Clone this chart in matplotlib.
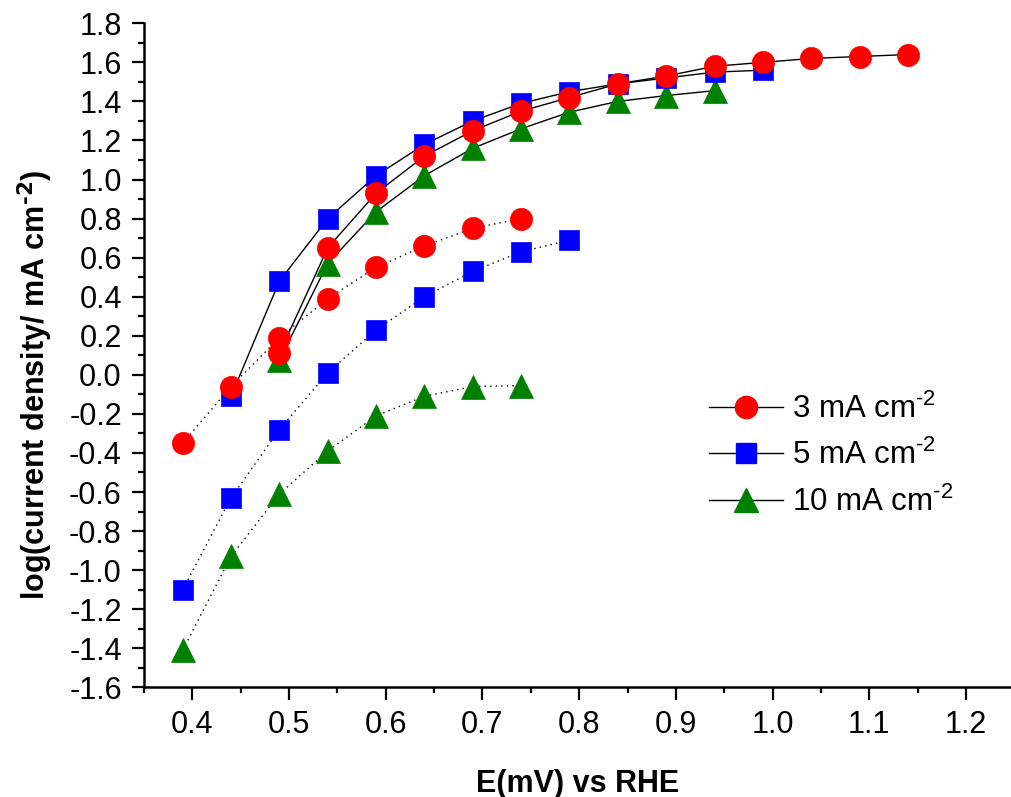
import numpy as np
import matplotlib
matplotlib.use("Agg")
import matplotlib.pyplot as plt
from matplotlib.lines import Line2D
from matplotlib.ticker import MultipleLocator, FormatStrFormatter

plt.rcParams["font.family"] = ["Liberation Sans", "DejaVu Sans"]
plt.rcParams["axes.unicode_minus"] = False

# upper branch (solid line)
E_SOLID_3 = [0.49, 0.54, 0.59, 0.64, 0.69, 0.74, 0.79, 0.84, 0.89, 0.94, 0.99, 1.04, 1.09, 1.14]
LOGJ_SOLID_3 = [0.11, 0.65, 0.93, 1.12, 1.25, 1.35, 1.42, 1.49, 1.53, 1.58, 1.60, 1.62, 1.63, 1.64]
E_SOLID_5 = [0.44, 0.49, 0.54, 0.59, 0.64, 0.69, 0.74, 0.79, 0.84, 0.89, 0.94, 0.99]
LOGJ_SOLID_5 = [-0.11, 0.48, 0.80, 1.02, 1.18, 1.30, 1.39, 1.45, 1.49, 1.52, 1.55, 1.56]
E_SOLID_10 = [0.49, 0.54, 0.59, 0.64, 0.69, 0.74, 0.79, 0.84, 0.89, 0.94]
LOGJ_SOLID_10 = [0.075, 0.57, 0.835, 1.02, 1.16, 1.26, 1.345, 1.40, 1.43, 1.455]

# lower branch (dotted line)
E_DOT_3 = [0.39, 0.44, 0.49, 0.54, 0.59, 0.64, 0.69, 0.74]
LOGJ_DOT_3 = [-0.35, -0.06, 0.19, 0.39, 0.55, 0.66, 0.75, 0.80]
E_DOT_5 = [0.39, 0.44, 0.49, 0.54, 0.59, 0.64, 0.69, 0.74, 0.79]
LOGJ_DOT_5 = [-1.10, -0.63, -0.28, 0.01, 0.23, 0.40, 0.53, 0.63, 0.69]
E_DOT_10 = [0.39, 0.44, 0.49, 0.54, 0.59, 0.64, 0.69, 0.74]
LOGJ_DOT_10 = [-1.41, -0.93, -0.61, -0.39, -0.21, -0.11, -0.06, -0.055]

# U+2010 hyphen so mathtext keeps a short dash instead of a minus sign
LABELS = ["3 mA cm$^{\\mathdefault{\u20102}}$",
          "5 mA cm$^{\\mathdefault{\u20102}}$",
          "10 mA cm$^{\\mathdefault{\u20102}}$"]

# order: green first so red sits on top
SERIES = [
    ("10", E_SOLID_10, LOGJ_SOLID_10, E_DOT_10, LOGJ_DOT_10, "#008000", "^", 17),
    ("5", E_SOLID_5, LOGJ_SOLID_5, E_DOT_5, LOGJ_DOT_5, "#0000FF", "s", 14.5),
    ("3", E_SOLID_3, LOGJ_SOLID_3, E_DOT_3, LOGJ_DOT_3, "#FF0000", "o", 16),
]


def main():
    fig = plt.figure(figsize=(10.12, 7.97), dpi=100)
    ax = fig.add_axes([144 / 1012, 109.7 / 797, 868 / 1012, 664 / 797])

    for name, xs, ys, xd, yd, color, marker, ms in SERIES:
        ax.plot(xs, ys, color="black", lw=1.0, ls="-", zorder=1)
        ax.plot(xd, yd, color="black", lw=1.0, ls=(0, (1, 3)), zorder=1)
    for name, xs, ys, xd, yd, color, marker, ms in SERIES:
        for x, y in ((xs, ys), (xd, yd)):
            ax.plot(x, y, ls="none", marker=marker, ms=ms, mfc=color, mec=color,
                    mew=0.5, zorder=3)

    ax.set_xlim(0.35, 1.2476)
    ax.set_ylim(-1.6, 1.8)
    ax.xaxis.set_major_locator(MultipleLocator(0.1))
    ax.xaxis.set_minor_locator(MultipleLocator(0.05))
    ax.yaxis.set_major_locator(MultipleLocator(0.2))
    ax.yaxis.set_minor_locator(MultipleLocator(0.1))
    ax.xaxis.set_major_formatter(FormatStrFormatter("%.1f"))
    ax.yaxis.set_major_formatter(FormatStrFormatter("%.1f"))

    for side in ("top", "right"):
        ax.spines[side].set_visible(False)
    for side in ("left", "bottom"):
        ax.spines[side].set_linewidth(1.8)
    ax.tick_params(which="major", direction="out", length=9, width=1.6,
                   labelsize=22, pad=7)
    ax.tick_params(which="minor", direction="out", length=4.5, width=1.6)

    ax.set_xlabel("E(mV) vs RHE", fontsize=22, fontweight="bold", labelpad=21)
    ax.set_ylabel("log(current density/ mA cm$^{\\mathbf{\u20102}}$)", fontsize=22,
                  fontweight="bold")
    ax.yaxis.set_label_coords(-0.103, 0.455)

    # legend: 3, 5, 10 in that order
    handles = []
    for color, marker, ms in (("#FF0000", "o", 16), ("#0000FF", "s", 14.5), ("#008000", "^", 17)):
        handles.append(Line2D([], [], color="black", lw=1.0, marker=marker, ms=ms,
                              mfc=color, mec=color))
    ax.legend(handles, LABELS, loc="center left", bbox_to_anchor=(0.637, 0.349),
              frameon=False, fontsize=22.5, handlelength=2.35, handletextpad=0.3,
              labelspacing=0.48, borderaxespad=0)

    fig.savefig("out.png", dpi=100)
    plt.close(fig)


if __name__ == "__main__":
    main()
